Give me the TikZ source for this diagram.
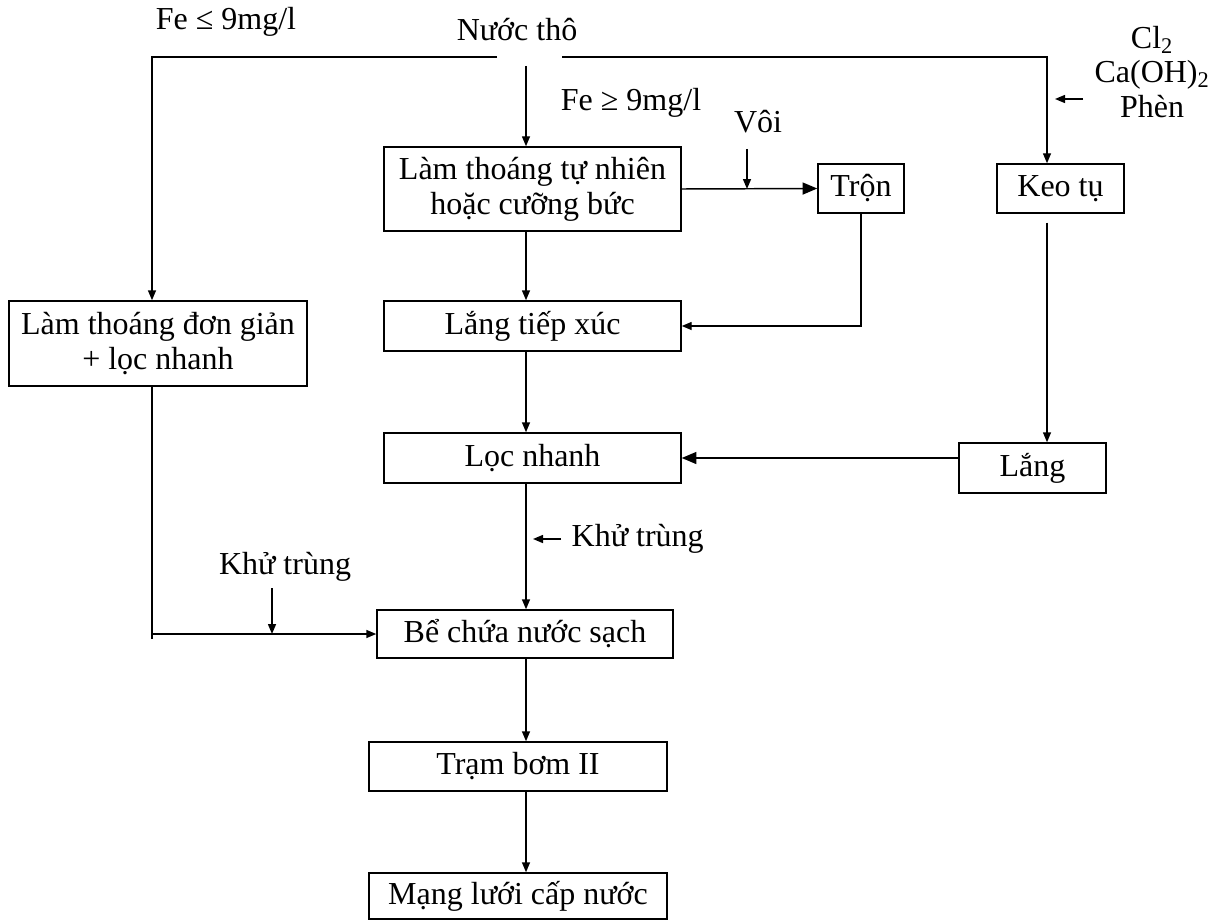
\documentclass[tikz,border=0pt]{standalone}
\usepackage{fontspec}
\setmainfont{Liberation Serif}
\usetikzlibrary{arrows,arrows.meta,positioning}

\newdimen\px \px=0.75pt

\begin{document}
\begin{tikzpicture}[x=0.75pt,y=-0.75pt,->,>={Triangle[length=7.5pt,width=6pt]},line width=1.1pt,
    every node/.style={font=\fontsize{24}{26}\selectfont}]
  \tikzstyle{box}=[draw,-,inner sep=0pt,align=center,minimum height=49\px]
  \tikzstyle{big}=[-{Triangle[length=11pt,width=9pt]}]
  \useasboundingbox (0,0) rectangle (1227,920);

  \node (raw) at (517,30) {Nước thô};
  \node (lo)  at (226,22) {Fe ≤ 9mg/l};
  \node (hi)  at (631,103) {Fe ≥ 9mg/l};
  \node (voi) at (758,122) {Vôi};
  \node[align=center] (chem) at (1152,72) {Cl\textsubscript{2}\\Ca(OH)\textsubscript{2}\\Phèn};

  \node[box,minimum width=297\px,minimum height=84\px] (aer) at (532.5,189) {Làm thoáng tự nhiên\\hoặc cưỡng bức};
  \node[box,minimum width=297\px,minimum height=50\px] (ltx) at (532.5,326) {Lắng tiếp xúc};
  \node[box,minimum width=297\px,minimum height=50\px] (loc) at (532.5,458) {Lọc nhanh};
  \node[box,minimum width=296\px,minimum height=48\px] (be)  at (525,634) {Bể chứa nước sạch};
  \node[box,minimum width=298\px]                      (bom) at (518,766.5) {Trạm bơm II};
  \node[box,minimum width=298\px,minimum height=46\px] (mang) at (518,896) {Mạng lưới cấp nước};
  \node[box,minimum width=298\px,minimum height=85\px] (don) at (158,343.5) {Làm thoáng đơn giản\\+ lọc nhanh};
  \node[box,minimum width=86\px]  (tron) at (861,188.5) {Trộn};
  \node[box,minimum width=127\px] (keo)  at (1060.5,188.5) {Keo tụ};
  \node[box,minimum width=147\px,minimum height=50\px] (lang) at (1032.5,468) {Lắng};

  \node (kt1) at (285,567) {Khử trùng};
  \node[anchor=west,inner xsep=10\px] (kt2) at (561,539) {Khử trùng};

  \coordinate (sl) at (497,57);  \coordinate (cl) at (152,57);
  \coordinate (sr) at (562,57);  \coordinate (cr) at (1047,57);
  \coordinate (src) at (526,66);
  \coordinate (vt) at (747,149);
  \coordinate (ct) at (1083,99); \coordinate (ch) at (1055,99);
  \coordinate (k1) at (272,588);
  \coordinate (k2) at (533,539);

  \draw (sl) -- (cl) -- (cl |- don.north);
  \draw (sr) -- (cr) -- (cr |- keo.north);
  \draw (src) -- (src |- aer.north);
  \draw (aer.south -| src) -- (src |- ltx.north);
  \draw (ltx.south -| src) -- (src |- loc.north);
  \draw (loc.south -| src) -- (src |- be.north);
  \draw (be.south -| src) -- (src |- bom.north);
  \draw (bom.south -| src) -- (src |- mang.north);
  \draw[big] (aer.east) -- (tron.west);
  \draw (vt) -- (vt |- aer.east);
  \draw (tron.south) |- (ltx.east);
  \draw[shorten <=9\px] (cr |- keo.south) -- (cr |- lang.north);
  \draw[big] (lang.west |- loc.east) -- (loc.east);
  \draw (ct) -- (ch);
  \draw (kt2.west) -- (k2);
  \draw[-] (don.south -| cl) -- ([yshift=-5\px]cl |- be.west);
  \draw (cl |- be.west) -- (be.west);
  \draw (k1) -- (k1 |- be.west);
\end{tikzpicture}
\end{document}
